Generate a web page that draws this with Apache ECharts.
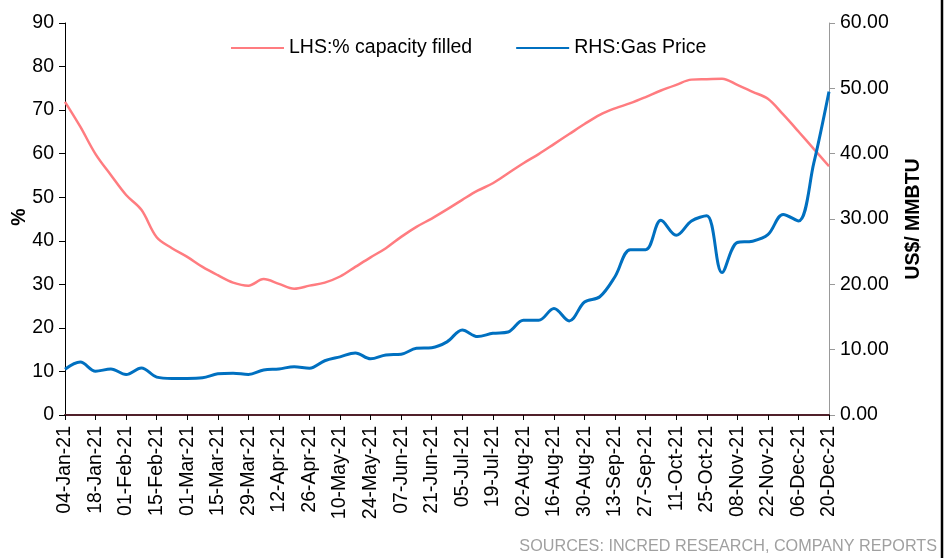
<!DOCTYPE html>
<html>
<head>
<meta charset="utf-8">
<script src="https://cdn.jsdelivr.net/npm/echarts@6/dist/echarts.min.js"></script>
<style>
  html, body { margin: 0; padding: 0; background: #fff; }
  #chart { width: 947px; height: 558px; }
</style>
</head>
<body>
<div id="chart"></div>
<script>
// ======================
// DATA
// ======================

const weeks = [
    '04-Jan-21', '11-Jan-21', '18-Jan-21', '25-Jan-21',
    '01-Feb-21', '08-Feb-21', '15-Feb-21', '22-Feb-21',
    '01-Mar-21', '08-Mar-21', '15-Mar-21', '22-Mar-21', '29-Mar-21',
    '05-Apr-21', '12-Apr-21', '19-Apr-21', '26-Apr-21',
    '03-May-21', '10-May-21', '17-May-21', '24-May-21', '31-May-21',
    '07-Jun-21', '14-Jun-21', '21-Jun-21', '28-Jun-21',
    '05-Jul-21', '12-Jul-21', '19-Jul-21', '26-Jul-21',
    '02-Aug-21', '09-Aug-21', '16-Aug-21', '23-Aug-21', '30-Aug-21',
    '06-Sep-21', '13-Sep-21', '20-Sep-21', '27-Sep-21',
    '04-Oct-21', '11-Oct-21', '18-Oct-21', '25-Oct-21',
    '01-Nov-21', '08-Nov-21', '15-Nov-21', '22-Nov-21', '29-Nov-21',
    '06-Dec-21', '13-Dec-21', '20-Dec-21'
];

// LHS: % capacity filled
const capacityFilled = [
    71.9, 66.2, 59.9, 55.1, 50.5, 47.1, 40.8, 38.3, 36.3, 34.0,
    32.1, 30.4, 29.7, 31.2, 30.1, 29.0, 29.7, 30.4, 31.8, 34.0,
    36.2, 38.3, 40.9, 43.2, 45.1, 47.2, 49.4, 51.5, 53.2, 55.5,
    57.8, 59.9, 62.2, 64.5, 66.8, 68.9, 70.4, 71.6, 73.0, 74.5,
    75.8, 77.0, 77.1, 77.2, 75.8, 74.2, 72.6, 69.0, 65.1, 61.1,
    57.1
];

// RHS: gas price, US$/MMBTU
const gasPrice = [
    7.0, 8.1, 6.7, 7.05, 6.2, 7.2, 5.8, 5.6, 5.6, 5.7,
    6.3, 6.4, 6.2, 6.9, 7.05, 7.4, 7.15, 8.3, 8.9, 9.5,
    8.6, 9.2, 9.3, 10.2, 10.3, 11.2, 13.0, 12.0, 12.5, 12.7,
    14.5, 14.5, 16.3, 14.4, 17.3, 18.1, 21.2, 25.3, 25.3, 29.8,
    27.5, 29.7, 30.5, 21.8, 26.4, 26.6, 27.6, 30.7, 29.7, 38.5,
    49.5
];

const leftTicks = { min: 0, max: 90, interval: 10 };
const rightTicks = { min: 0, max: 60, interval: 10 };

// ======================
// CHART
// ======================

const FONT = '"Liberation Sans", Arial, sans-serif';
const PINK = '#ff7c80';
const BLUE = '#0070c0';
const LEGEND_ICON = 'path://M0,6 L53,6 L53,8 L0,8 Z';

const chart = echarts.init(document.getElementById('chart'));

chart.setOption({
    animation: false,
    textStyle: { fontFamily: FONT },
    grid: {
        left: 65, right: 118, top: 23, bottom: 143,
        containLabel: false,
        outerBoundsMode: 'none'
    },
    legend: {
        left: 226,
        top: 33,
        itemWidth: 53,
        itemHeight: 14,
        itemGap: 44,
        textStyle: { fontSize: 19.5, color: '#000', fontFamily: FONT },
        data: [
            { name: 'LHS:% capacity filled', icon: LEGEND_ICON, itemStyle: { color: PINK } },
            { name: 'RHS:Gas Price', icon: LEGEND_ICON, itemStyle: { color: BLUE } }
        ]
    },
    xAxis: {
        type: 'category',
        data: weeks,
        boundaryGap: false,
        axisLine: { lineStyle: { color: '#50202a', width: 2 } },
        axisTick: { show: true, interval: 1, length: 5, lineStyle: { color: '#000' } },
        axisLabel: {
            interval: 1,
            rotate: 90,
            margin: 11,
            fontSize: 19.5,
            color: '#000',
            fontFamily: FONT
        },
        splitLine: { show: false }
    },
    yAxis: [
        {
            type: 'value',
            min: leftTicks.min,
            max: leftTicks.max,
            interval: leftTicks.interval,
            axisLine: { show: true, lineStyle: { color: '#000', width: 1 } },
            axisTick: { show: true, length: 6, lineStyle: { color: '#000' } },
            axisLabel: { fontSize: 19.5, color: '#000', margin: 11, fontFamily: FONT },
            splitLine: { show: false }
        },
        {
            type: 'value',
            min: rightTicks.min,
            max: rightTicks.max,
            interval: rightTicks.interval,
            position: 'right',
            name: 'US$/ MMBTU',
            nameLocation: 'middle',
            nameRotate: 90,
            nameGap: 75,
            nameTextStyle: { fontSize: 19.5, fontWeight: 'bold', color: '#000', fontFamily: FONT },
            axisLine: { show: true, lineStyle: { color: '#999', width: 1 } },
            axisTick: { show: true, length: 6, lineStyle: { color: '#999' } },
            axisLabel: {
                fontSize: 19.5,
                color: '#000',
                margin: 11,
                fontFamily: FONT,
                formatter: v => v.toFixed(2)
            },
            splitLine: { show: false }
        }
    ],
    series: [
        {
            name: 'LHS:% capacity filled',
            type: 'line',
            yAxisIndex: 0,
            data: capacityFilled,
            smooth: 0.35,
            symbol: 'none',
            lineStyle: { color: PINK, width: 2.5 },
            itemStyle: { color: PINK },
            z: 3
        },
        {
            name: 'RHS:Gas Price',
            type: 'line',
            yAxisIndex: 1,
            data: gasPrice,
            smooth: 0.35,
            symbol: 'none',
            lineStyle: { color: BLUE, width: 3 },
            itemStyle: { color: BLUE },
            z: 4
        }
    ],
    graphic: [
        {
            // left axis title
            type: 'text',
            x: 20,
            y: 217,
            rotation: Math.PI / 2,
            style: {
                text: '%',
                fill: '#000',
                font: 'bold 19.5px "Liberation Sans", Arial, sans-serif',
                align: 'center',
                verticalAlign: 'middle'
            }
        },
        {
            type: 'text',
            right: 10,
            top: 539,
            style: {
                text: 'SOURCES: INCRED RESEARCH, COMPANY REPORTS',
                fill: '#a0a0a0',
                font: '16.2px "Liberation Sans", Arial, sans-serif'
            }
        },
        {
            type: 'line',
            shape: { x1: 942, y1: 0, x2: 942, y2: 558 },
            style: { stroke: '#000', lineWidth: 2.5 }
        }
    ]
});
</script>
</body>
</html>
